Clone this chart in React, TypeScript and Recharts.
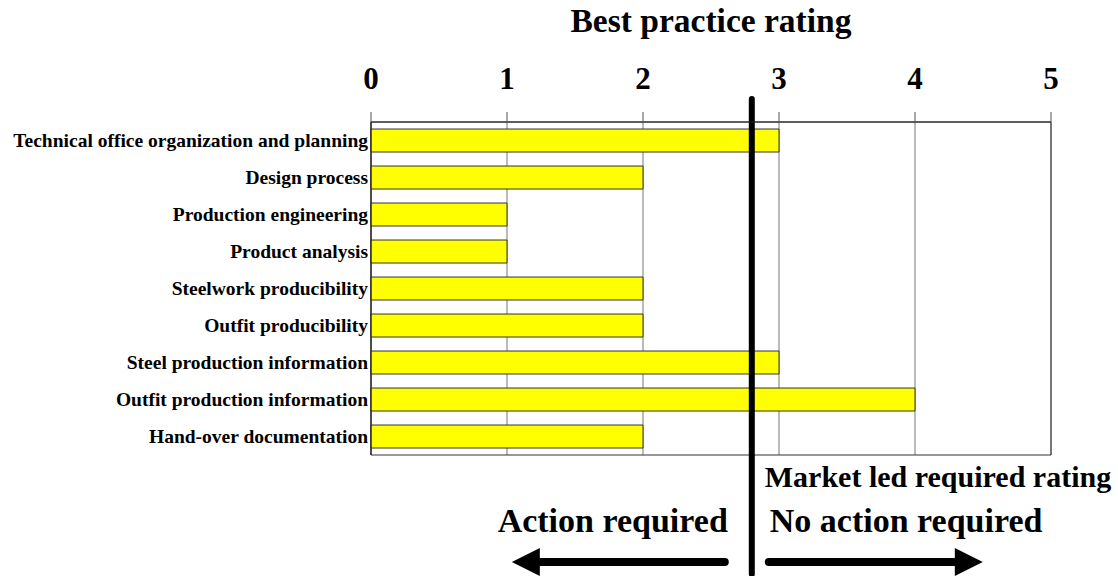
import React from "react";
import {
  BarChart,
  Bar,
  XAxis,
  YAxis,
  CartesianGrid,
  ReferenceLine,
  ReferenceArea,
} from "recharts";

const categories = [
  "Technical office organization and planning",
  "Design process",
  "Production engineering",
  "Product analysis",
  "Steelwork producibility",
  "Outfit producibility",
  "Steel production information",
  "Outfit production information",
  "Hand-over documentation",
];
const ratings = [3, 2, 1, 1, 2, 2, 3, 4, 2];
const ratingTicks = [0, 1, 2, 3, 4, 5];
const boundaryTicks = [0, 1, 2, 3, 4, 5, 6, 7, 8, 9];
const requiredRating = 2.8;

const data = categories.map((name, i) => ({ name, rating: ratings[i] }));

const FONT = "'Liberation Serif', 'Times New Roman', serif";

function CategoryTick({ x, y, payload }: any) {
  return (
    <text
      x={x}
      y={y}
      textAnchor="end"
      dominantBaseline="central"
      fontFamily={FONT}
      fontWeight="bold"
      fontSize={19.5}
      fill="#000"
    >
      {payload.value}
    </text>
  );
}

function RequiredLine({ x1, y1, y2 }: any) {
  const x = x1;
  const textStyle = { fontFamily: FONT, fontWeight: "bold" as const, fill: "#000" };
  return (
    <g>
      <line x1={x} y1={y1 - 23} x2={x} y2={y2 + 119} stroke="#000" strokeWidth={6} strokeLinecap="round" />
      <text x={x + 13} y={y2 + 32} fontSize={30} {...textStyle}>
        Market led required rating
      </text>
      <text x={x - 24} y={y2 + 77} fontSize={34} textAnchor="end" {...textStyle}>
        Action required
      </text>
      <text x={x + 18} y={y2 + 77} fontSize={34} {...textStyle}>
        No action required
      </text>
      {/* arrows */}
      <line x1={x - 27} y1={y2 + 107} x2={x - 214} y2={y2 + 107} stroke="#000" strokeWidth={8} strokeLinecap="round" />
      <polygon
        points={`${x - 240},${y2 + 107} ${x - 212},${y2 + 93} ${x - 212},${y2 + 121}`}
        fill="#000"
      />
      <line x1={x + 17} y1={y2 + 107} x2={x + 205} y2={y2 + 107} stroke="#000" strokeWidth={8} strokeLinecap="round" />
      <polygon
        points={`${x + 231},${y2 + 107} ${x + 203},${y2 + 93} ${x + 203},${y2 + 121}`}
        fill="#000"
      />
    </g>
  );
}

export default function App() {
  return (
    <div style={{ position: "absolute", left: 0, top: 0, background: "#fff" }}>
      <BarChart
        width={1118}
        height={576}
        data={data}
        layout="vertical"
        margin={{ top: 62, right: 67, bottom: 121, left: 0 }}
        barCategoryGap="19%"
      >
        <CartesianGrid horizontal={false} stroke="#777" yAxisId="cat" />
        <XAxis
          type="number"
          orientation="top"
          domain={[0, 5]}
          ticks={ratingTicks}
          height={60}
          tickSize={10}
          tickMargin={23}
          tickLine={{ stroke: "#555" }}
          axisLine={{ stroke: "#222" }}
          tick={{ fontSize: 31, fontWeight: "bold", fill: "#000", fontFamily: FONT }}
          label={{
            value: "Best practice rating",
            position: "top",
            offset: 30,
            style: { fontSize: 33.5, fontWeight: "bold", fill: "#000", fontFamily: FONT },
          }}
        />
        <YAxis
          yAxisId="cat"
          type="category"
          dataKey="name"
          width={371}
          tickSize={0}
          tickMargin={3}
          tickLine={false}
          axisLine={{ stroke: "#222" }}
          tick={<CategoryTick />}
          interval={0}
        />
        <YAxis
          yAxisId="edge"
          type="number"
          domain={[0, 9]}
          ticks={boundaryTicks}
          width={0}
          tickSize={5}
          tick={() => <g />}
          axisLine={false}
          tickLine={{ stroke: "#333" }}
        />
        <ReferenceArea yAxisId="cat" x1={0} x2={5} fill="none" stroke="#333" ifOverflow="visible" />
        <Bar
          yAxisId="cat"
          dataKey="rating"
          fill="#ffff00"
          stroke="#333"
          strokeWidth={1}
          isAnimationActive={false}
        />
        <ReferenceLine
          yAxisId="cat"
          x={requiredRating}
          ifOverflow="visible"
          shape={<RequiredLine />}
        />
      </BarChart>
    </div>
  );
}
